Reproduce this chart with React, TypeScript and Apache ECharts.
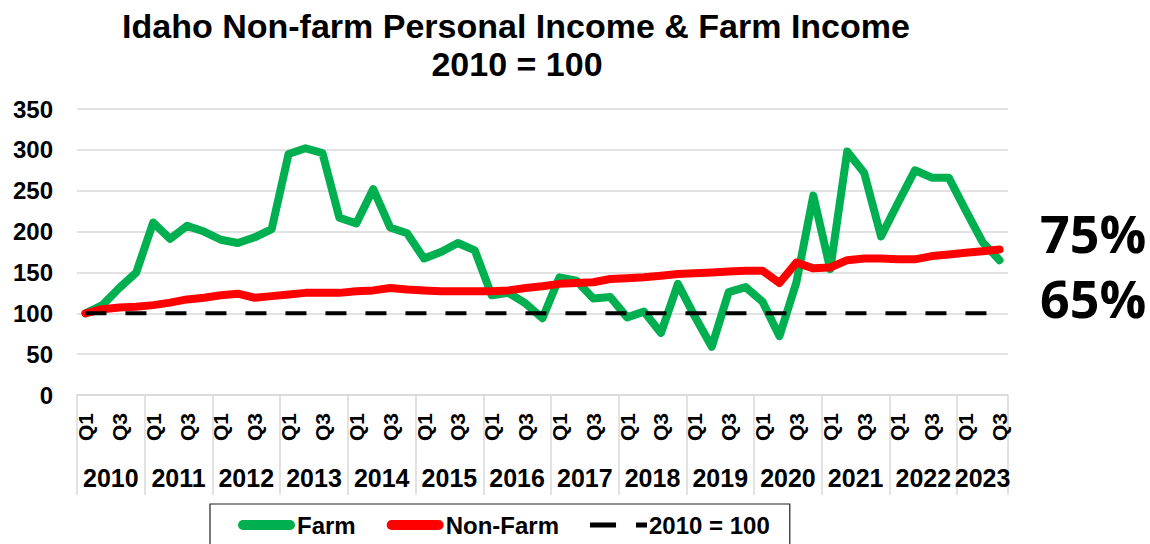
import React, { useEffect, useRef } from "react";
import * as echarts from "echarts";

const titleLine1 = "Idaho Non-farm Personal Income & Farm Income";
const titleLine2 = "2010 = 100";

const years = [2010, 2011, 2012, 2013, 2014, 2015, 2016, 2017, 2018, 2019, 2020, 2021, 2022, 2023];
const quarterNames = ["Q1", "Q2", "Q3", "Q4"];

// 2010 Q1 .. 2023 Q3
const categories: string[] = [];
years.forEach((y) => {
  quarterNames.forEach((q) => {
    if (y === 2023 && q === "Q4") return;
    categories.push(`${y} ${q}`);
  });
});

const farm = [
  100, 110, 131, 150,
  211, 191, 207, 200,
  190, 186, 193, 203,
  295, 302, 296, 217,
  210, 252, 205, 198,
  167, 175, 186, 177,
  122, 125, 112, 94,
  144, 140, 118, 120,
  95, 102, 76, 136,
  96, 59, 126, 132,
  114, 72, 138, 244,
  154, 298, 272, 194,
  235, 275, 266, 266,
  226, 187, 165,
];

const nonFarm = [
  100, 105, 107, 108,
  110, 113, 117, 119,
  122, 124, 119, 121,
  123, 125, 125, 125,
  127, 128, 131, 129,
  128, 127, 127, 127,
  127, 128, 131, 133,
  136, 137, 138, 142,
  143, 144, 146, 148,
  149, 150, 151, 152,
  152, 137, 162, 155,
  156, 165, 167, 167,
  166, 166, 170, 172,
  174, 176, 178,
];

const baseline = categories.map(() => 100);

const yTicks = { min: 0, max: 350, interval: 50 };

// year separators (category boundaries) and year label centres
const yearBoundaries = [0, 4, 8, 12, 16, 20, 24, 28, 32, 36, 40, 44, 48, 52, 55];
const yearCenters = [2, 6, 10, 14, 18, 22, 26, 30, 34, 38, 42, 46, 50, 53.5];

const farmChange = "75%";
const nonFarmChange = "65%";

const FONT = '"Liberation Sans", Arial, sans-serif';

const capsuleIcon = "path://M5,0H52A5,5 0 0 1 52,10H5A5,5 0 0 1 5,0Z";
const dashIcon = "path://M0,0L0.01,0L0,0Z M0,10L0.01,10L0,10Z M57,0L57.01,0L57,0Z M0,2.5H26V7.5H0Z M46,2.5H57V7.5H46Z";

export default function App() {
  const ref = useRef<HTMLDivElement>(null);

  useEffect(() => {
    if (!ref.current) return;
    const chart = echarts.init(ref.current, undefined, { renderer: "svg" });
    chart.setOption({
      animation: false,
      backgroundColor: "#ffffff",
      title: [
        {
          text: titleLine1,
          left: 511,
          top: 4,
          textAlign: "center",
          textStyle: { fontFamily: FONT, fontWeight: "bold", fontSize: 34, color: "#000" },
        },
        {
          text: titleLine2,
          left: 512,
          top: 42,
          textAlign: "center",
          textStyle: { fontFamily: FONT, fontWeight: "bold", fontSize: 34, color: "#000" },
        },
      ],
      legend: {
        left: 210,
        top: 504,
        padding: [9, 20, 14, 28],
        borderColor: "#222",
        borderWidth: 1.2,
        itemWidth: 57,
        itemHeight: 10,
        itemGap: 31,
        textStyle: { fontFamily: FONT, fontWeight: "bold", fontSize: 24, color: "#000", padding: [0, 0, 0, -3] },
        data: [
          { name: "Farm", icon: capsuleIcon },
          { name: "Non-Farm", icon: capsuleIcon },
          { name: "2010 = 100", icon: dashIcon },
        ],
      },
      grid: { left: 77, right: 142, top: 109, bottom: 149, containLabel: false },
      xAxis: [
        {
          type: "category",
          data: categories,
          boundaryGap: true,
          axisLine: { show: true, lineStyle: { color: "#d9d9d9", width: 1.5 } },
          axisTick: { show: false },
          axisLabel: {
            interval: 0,
            rotate: 90,
            margin: 18,
            fontFamily: FONT,
            fontWeight: "bold",
            fontSize: 21,
            color: "#000",
            formatter: (v: string) => {
              const q = v.split(" ")[1];
              return q === "Q1" || q === "Q3" ? q : "";
            },
          },
          splitLine: { show: false },
        },
        {
          type: "value",
          position: "bottom",
          min: 0,
          max: 55,
          axisLine: { show: false },
          splitLine: { show: false },
          axisTick: {
            show: true,
            customValues: yearBoundaries,
            length: 100,
            lineStyle: { color: "#d9d9d9", width: 1.5 },
          },
          axisLabel: {
            customValues: yearCenters,
            margin: 70,
            fontFamily: FONT,
            fontWeight: "bold",
            fontSize: 25,
            color: "#000",
            formatter: (v: number) => String(years[Math.floor(v / 4)]),
          },
        },
      ],
      yAxis: {
        type: "value",
        min: yTicks.min,
        max: yTicks.max,
        interval: yTicks.interval,
        axisLine: { show: false },
        axisTick: { show: false },
        axisLabel: { margin: 24, fontFamily: FONT, fontWeight: "bold", fontSize: 24, color: "#000" },
        splitLine: { lineStyle: { color: "#d9d9d9", width: 1.5 } },
      },
      series: [
        {
          name: "Farm",
          type: "line",
          data: farm,
          symbol: "none",
          lineStyle: { color: "#00b050", width: 8, cap: "round", join: "round" },
          itemStyle: { color: "#00b050" },
        },
        {
          name: "Non-Farm",
          type: "line",
          data: nonFarm,
          symbol: "none",
          lineStyle: { color: "#ff0000", width: 8, cap: "round", join: "round" },
          itemStyle: { color: "#ff0000" },
        },
        {
          name: "2010 = 100",
          type: "line",
          data: baseline,
          symbol: "none",
          lineStyle: { color: "#000000", width: 4, type: [21, 19], cap: "butt" },
          itemStyle: { color: "#000000" },
        },
      ],
      graphic: [
        {
          type: "text",
          x: 1040,
          y: 232,
          style: {
            text: farmChange,
            fill: "#000",
            font: 'bold 52px "Open Sans", sans-serif',
            verticalAlign: "middle",
          },
        },
        {
          type: "text",
          x: 1040,
          y: 297,
          style: {
            text: nonFarmChange,
            fill: "#000",
            font: 'bold 52px "Open Sans", sans-serif',
            verticalAlign: "middle",
          },
        },
      ],
    });
    return () => chart.dispose();
  }, []);

  return (
    <div
      ref={ref}
      style={{ position: "fixed", left: 0, top: 0, width: 1150, height: 544, background: "#fff" }}
    />
  );
}
